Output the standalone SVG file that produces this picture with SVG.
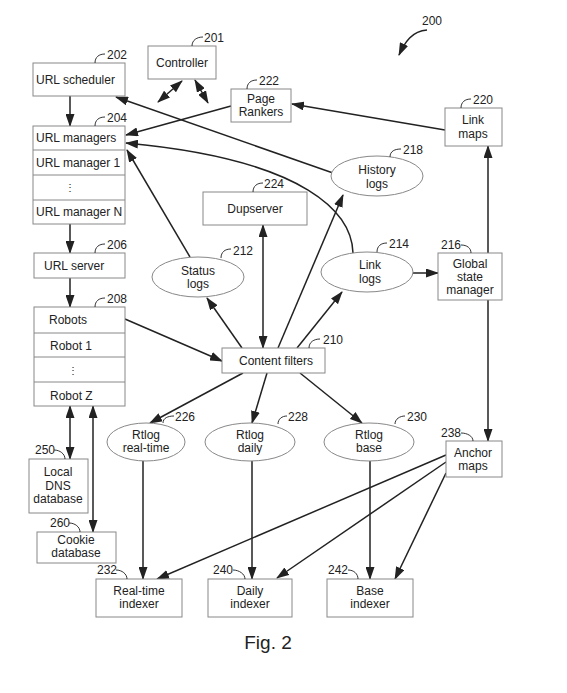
<svg xmlns="http://www.w3.org/2000/svg" width="567" height="693" viewBox="0 0 567 693">
<defs>
<marker id="ah" markerUnits="userSpaceOnUse" markerWidth="13" markerHeight="9" refX="12" refY="4.5" orient="auto-start-reverse" viewBox="0 0 13 9">
<path d="M0,0 L13,4.5 L0,9 z" fill="#222"/>
</marker>
<style>
.box{fill:#fff;stroke:#888;stroke-width:1}
.ell{fill:#fff;stroke:#888;stroke-width:1}
.div{stroke:#888;stroke-width:1}
.t{font-family:"Liberation Sans",Arial,sans-serif;font-size:12px;fill:#222}
.c{text-anchor:middle}
.n{font-family:"Liberation Sans",Arial,sans-serif;font-size:12px;fill:#222}
.tk{fill:none;stroke:#333;stroke-width:1}
.ln{fill:none;stroke:#222;stroke-width:1.5}
.one{marker-end:url(#ah)}
.two{marker-start:url(#ah);marker-end:url(#ah)}
</style>
</defs>
<rect width="567" height="693" fill="#fff"/>

<g id="connectors">
<line class="ln one" x1="70" y1="96" x2="70" y2="126"/>
<line class="ln two" x1="182" y1="81" x2="158" y2="102"/>
<line class="ln two" x1="195" y1="80" x2="208" y2="103"/>
<line class="ln one" x1="231" y1="106" x2="126" y2="135"/>
<line class="ln one" x1="445" y1="130" x2="292" y2="104"/>
<line class="ln one" x1="333" y1="173" x2="116" y2="97"/>
<path class="ln one" d="M353,253 C352,215 310,160 126,143"/>
<line class="ln one" x1="190" y1="257" x2="127" y2="150"/>
<line class="ln one" x1="278" y1="348" x2="343" y2="195"/>
<line class="ln two" x1="263" y1="225" x2="263" y2="348"/>
<line class="ln one" x1="70" y1="224" x2="70" y2="253"/>
<line class="ln one" x1="70" y1="278" x2="70" y2="307"/>
<line class="ln one" x1="125" y1="319" x2="222" y2="361"/>
<line class="ln one" x1="242" y1="348" x2="207" y2="298"/>
<line class="ln one" x1="297" y1="348" x2="342" y2="292"/>
<line class="ln one" x1="413" y1="273" x2="438" y2="273"/>
<line class="ln one" x1="488" y1="253" x2="488" y2="146"/>
<line class="ln one" x1="488" y1="300" x2="488" y2="441"/>
<line class="ln one" x1="243" y1="373" x2="150" y2="423"/>
<line class="ln one" x1="267" y1="373" x2="252" y2="423"/>
<line class="ln one" x1="300" y1="373" x2="362" y2="423"/>
<line class="ln two" x1="70" y1="406" x2="70" y2="459"/>
<line class="ln two" x1="93" y1="406" x2="93" y2="532"/>
<line class="ln one" x1="143" y1="461" x2="143" y2="579"/>
<line class="ln one" x1="252" y1="461" x2="252" y2="579"/>
<line class="ln one" x1="370" y1="461" x2="370" y2="579"/>
<line class="ln one" x1="446" y1="455" x2="157" y2="579"/>
<line class="ln one" x1="446" y1="462" x2="277" y2="578"/>
<line class="ln one" x1="446" y1="473" x2="395" y2="579"/>
<path class="ln one" d="M427,30 C412,31 405,42 399,55"/>
</g>

<g id="n200"><text class="n" x="422" y="25">200</text></g>

<g id="n201">
<rect class="box" x="148" y="46" width="68" height="33"/>
<text class="t c" x="182" y="67">Controller</text>
<path class="tk" d="M192,46 C192,40 197,37 203,37"/><text class="n" x="204" y="42">201</text>
</g>

<g id="n202">
<rect class="box" x="33" y="63" width="92" height="33"/>
<text class="t" x="36" y="84">URL scheduler</text>
<path class="tk" d="M95,63 C95,57 99,54 105,54"/><text class="n" x="107" y="59">202</text>
</g>

<g id="n222">
<rect class="box" x="231" y="89" width="60" height="33"/>
<text class="t c" x="261" y="103">Page</text>
<text class="t c" x="261" y="116">Rankers</text>
<path class="tk" d="M247,89 C247,83 251,80 257,80"/><text class="n" x="259" y="85">222</text>
</g>

<g id="n220">
<rect class="box" x="445" y="108" width="57" height="38"/>
<text class="t c" x="473" y="124">Link</text>
<text class="t c" x="473" y="138">maps</text>
<path class="tk" d="M461,108 C461,102 465,99 471,99"/><text class="n" x="473" y="104">220</text>
</g>

<g id="n204">
<rect class="box" x="33" y="126" width="92" height="98"/>
<line class="div" x1="33" y1="150" x2="125" y2="150"/>
<line class="div" x1="33" y1="175" x2="125" y2="175"/>
<line class="div" x1="33" y1="200" x2="125" y2="200"/>
<text class="t" x="36" y="142">URL managers</text>
<text class="t" x="36" y="167">URL manager 1</text>
<text class="t c" x="70" y="191" style="font-size:10px">⋮</text>
<text class="t" x="36" y="216">URL manager N</text>
<path class="tk" d="M95,126 C95,120 99,117 105,117"/><text class="n" x="107" y="122">204</text>
</g>

<g id="n218">
<ellipse class="ell" cx="377" cy="176" rx="46" ry="20"/>
<text class="t c" x="377" y="174">History</text>
<text class="t c" x="377" y="188">logs</text>
<path class="tk" d="M390,157 C390,151 395,149 401,149"/><text class="n" x="403" y="154">218</text>
</g>

<g id="n224">
<rect class="box" x="203" y="192" width="104" height="33"/>
<text class="t c" x="255" y="213">Dupserver</text>
<path class="tk" d="M253,192 C253,186 257,183 263,183"/><text class="n" x="264" y="188">224</text>
</g>

<g id="n206">
<rect class="box" x="34" y="253" width="91" height="25"/>
<text class="t" x="44" y="270">URL server</text>
<path class="tk" d="M95,253 C95,247 99,244 105,244"/><text class="n" x="107" y="249">206</text>
</g>

<g id="n212">
<ellipse class="ell" cx="198" cy="277" rx="46" ry="20"/>
<text class="t c" x="198" y="275">Status</text>
<text class="t c" x="198" y="288">logs</text>
<path class="tk" d="M221,258 C221,252 225,249 231,249"/><text class="n" x="233" y="255">212</text>
</g>

<g id="n214">
<ellipse class="ell" cx="367" cy="272" rx="46" ry="20"/>
<text class="t c" x="370" y="269">Link</text>
<text class="t c" x="370" y="283">logs</text>
<path class="tk" d="M377,252 C377,246 381,243 387,243"/><text class="n" x="389" y="248">214</text>
</g>

<g id="n216">
<rect class="box" x="438" y="253" width="64" height="47"/>
<text class="t c" x="470" y="268">Global</text>
<text class="t c" x="470" y="281">state</text>
<text class="t c" x="470" y="294">manager</text>
<text class="n" x="441" y="249">216</text><path class="tk" d="M461,245 C467,245 471,248 471,253"/>
</g>

<g id="n208">
<rect class="box" x="34" y="307" width="91" height="99"/>
<line class="div" x1="34" y1="333" x2="125" y2="333"/>
<line class="div" x1="34" y1="357" x2="125" y2="357"/>
<line class="div" x1="34" y1="382" x2="125" y2="382"/>
<text class="t" x="49" y="324">Robots</text>
<text class="t" x="50" y="350">Robot 1</text>
<text class="t c" x="73" y="374" style="font-size:10px">⋮</text>
<text class="t" x="50" y="400">Robot Z</text>
<path class="tk" d="M95,307 C95,301 99,298 105,298"/><text class="n" x="107" y="303">208</text>
</g>

<g id="n210">
<rect class="box" x="222" y="348" width="103" height="25"/>
<text class="t c" x="276" y="365">Content filters</text>
<path class="tk" d="M309,348 C309,342 314,339 320,339"/><text class="n" x="323" y="344">210</text>
</g>

<g id="n226">
<ellipse class="ell" cx="146" cy="442" rx="39" ry="19"/>
<text class="t c" x="146" y="439">Rtlog</text>
<text class="t c" x="146" y="452">real-time</text>
<path class="tk" d="M163,423 C163,418 168,416 174,416"/><text class="n" x="175" y="421">226</text>
</g>

<g id="n228">
<ellipse class="ell" cx="250" cy="442" rx="45" ry="19"/>
<text class="t c" x="250" y="439">Rtlog</text>
<text class="t c" x="250" y="452">daily</text>
<path class="tk" d="M278,424 C278,419 282,416 287,416"/><text class="n" x="288" y="421">228</text>
</g>

<g id="n230">
<ellipse class="ell" cx="369" cy="442" rx="45" ry="19"/>
<text class="t c" x="369" y="439">Rtlog</text>
<text class="t c" x="369" y="452">base</text>
<path class="tk" d="M395,424 C395,419 400,416 405,416"/><text class="n" x="407" y="421">230</text>
</g>

<g id="n238">
<rect class="box" x="446" y="441" width="56" height="36"/>
<text class="t c" x="473" y="457">Anchor</text>
<text class="t c" x="473" y="470">maps</text>
<text class="n" x="441" y="437">238</text><path class="tk" d="M461,433 C467,433 473,436 473,441"/>
</g>

<g id="n250">
<rect class="box" x="29" y="459" width="59" height="54"/>
<text class="t c" x="58" y="476">Local</text>
<text class="t c" x="58" y="490">DNS</text>
<text class="t c" x="58" y="503">database</text>
<text class="n" x="35" y="454">250</text><path class="tk" d="M54,450 C60,450 65,454 65,459"/>
</g>

<g id="n260">
<rect class="box" x="37" y="532" width="79" height="31"/>
<text class="t c" x="76" y="544">Cookie</text>
<text class="t c" x="76" y="557">database</text>
<text class="n" x="50" y="527">260</text><path class="tk" d="M69,523 C75,523 80,527 80,532"/>
</g>

<g id="n232">
<rect class="box" x="96" y="579" width="86" height="38"/>
<text class="t c" x="139" y="595">Real-time</text>
<text class="t c" x="139" y="608">indexer</text>
<text class="n" x="97" y="574">232</text><path class="tk" d="M116,570 C122,570 127,574 127,579"/>
</g>

<g id="n240">
<rect class="box" x="208" y="579" width="84" height="38"/>
<text class="t c" x="250" y="595">Daily</text>
<text class="t c" x="250" y="608">indexer</text>
<text class="n" x="213" y="574">240</text><path class="tk" d="M233,570 C239,570 245,574 245,579"/>
</g>

<g id="n242">
<rect class="box" x="327" y="579" width="86" height="38"/>
<text class="t c" x="370" y="595">Base</text>
<text class="t c" x="370" y="608">indexer</text>
<text class="n" x="328" y="574">242</text><path class="tk" d="M348,570 C354,570 358,574 358,579"/>
</g>

<text class="t c" x="268" y="649" style="font-size:19px">Fig. 2</text>
</svg>
